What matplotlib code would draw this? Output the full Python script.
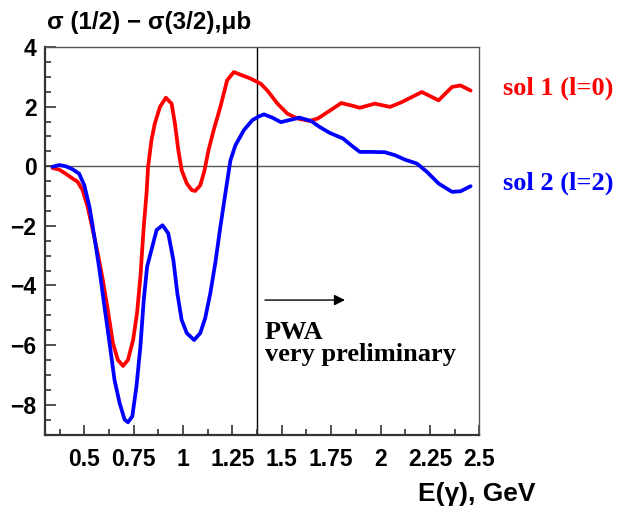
import matplotlib
matplotlib.use("Agg")
import matplotlib.pyplot as plt

# sol 1 (l=0): photon energy [GeV] and sigma(1/2) - sigma(3/2) [mub]
e_sol1 = [0.339, 0.372, 0.406, 0.440, 0.466, 0.491, 0.517, 0.543, 0.568, 0.594,
          0.619, 0.645, 0.670, 0.696, 0.721, 0.747, 0.767, 0.784, 0.801, 0.815,
          0.823, 0.840, 0.857, 0.883, 0.913, 0.942, 0.959, 0.976, 0.993, 1.019,
          1.044, 1.061, 1.087, 1.107, 1.129, 1.155, 1.189, 1.223, 1.257, 1.291,
          1.342, 1.393, 1.427, 1.478, 1.529, 1.580, 1.640, 1.682, 1.733, 1.801,
          1.852, 1.895, 1.971, 2.048, 2.107, 2.209, 2.294, 2.362, 2.405, 2.456]
s_sol1 = [-0.06, -0.11, -0.25, -0.41, -0.52, -0.80, -1.36, -2.14, -2.92, -3.82,
          -4.82, -5.94, -6.50, -6.70, -6.50, -5.83, -4.93, -3.71, -2.03, -0.92,
          -0.02, 0.87, 1.43, 1.99, 2.30, 2.10, 1.43, 0.54, -0.13, -0.58,
          -0.80, -0.83, -0.64, -0.19, 0.54, 1.21, 1.99, 2.88, 3.16, 3.07,
          2.94, 2.77, 2.54, 2.10, 1.76, 1.60, 1.52, 1.60, 1.82, 2.12,
          2.04, 1.96, 2.10, 1.99, 2.15, 2.49, 2.21, 2.66, 2.71, 2.54]

# sol 2 (l=2)
e_sol2 = [0.339, 0.372, 0.406, 0.440, 0.474, 0.500, 0.526, 0.551, 0.577, 0.602,
          0.628, 0.653, 0.679, 0.704, 0.721, 0.743, 0.764, 0.784, 0.801, 0.818,
          0.840, 0.866, 0.896, 0.925, 0.951, 0.971, 0.993, 1.019, 1.056, 1.087,
          1.112, 1.138, 1.163, 1.189, 1.214, 1.240, 1.265, 1.308, 1.350, 1.380,
          1.410, 1.452, 1.495, 1.546, 1.589, 1.648, 1.691, 1.742, 1.810, 1.852,
          1.895, 1.954, 2.022, 2.073, 2.124, 2.184, 2.235, 2.294, 2.362, 2.405,
          2.456]
s_sol2 = [-0.02, 0.04, 0.00, -0.10, -0.25, -0.64, -1.36, -2.37, -3.48, -4.71,
          -5.94, -7.17, -7.95, -8.50, -8.59, -8.39, -7.39, -6.05, -4.49, -3.37,
          -2.81, -2.14, -1.98, -2.25, -3.15, -4.26, -5.16, -5.60, -5.83, -5.60,
          -5.10, -4.26, -3.26, -2.03, -0.92, 0.20, 0.70, 1.21, 1.54, 1.66,
          1.74, 1.63, 1.48, 1.56, 1.63, 1.52, 1.32, 1.12, 0.93, 0.70,
          0.48, 0.48, 0.47, 0.37, 0.22, 0.09, -0.19, -0.58, -0.86, -0.84,
          -0.67]

x_major = [0.5, 0.75, 1.0, 1.25, 1.5, 1.75, 2.0, 2.25, 2.5]
x_labels = ["0.5", "0.75", "1", "1.25", "1.5", "1.75", "2", "2.25", "2.5"]
y_major = [-8, -6, -4, -2, 0, 2, 4]
e_cut = 1.375

W, H = 625, 509
fig = plt.figure(figsize=(W / 100, H / 100), dpi=100)
ax = fig.add_axes([44.8 / W, 1 - 434.5 / H, (479.3 - 44.8) / W, (434.5 - 47) / H])

ax.plot(e_sol1, s_sol1, color="#ff0000", lw=2.7, solid_joinstyle="round",
        solid_capstyle="round", zorder=3)
ax.plot(e_sol2, s_sol2, color="#0000ff", lw=2.7, solid_joinstyle="round",
        solid_capstyle="round", zorder=3)

ax.axhline(0, color="#555555", lw=1.0, zorder=1)
ax.axvline(e_cut, color="black", lw=1.0, zorder=1)

ax.set_xlim(0.3, 2.5)
ax.set_ylim(-9, 4)

tfont = dict(family="Liberation Sans", weight="bold", size=16.5)
ax.set_xticks(x_major)
ax.set_xticklabels(x_labels, fontdict=tfont)
ax.set_xticks([0.375 + 0.25 * i for i in range(9)], minor=True)
ax.set_yticks(y_major)
ax.set_yticklabels([str(v).replace("-", "\u2212") for v in y_major], fontdict=tfont)
ax.set_yticks([v / 2 for v in range(-18, 9) if v % 4], minor=True)

ax.tick_params(which="both", direction="in", color="#333333", width=1.2)
ax.tick_params(axis="x", which="major", length=7, pad=10)
ax.tick_params(axis="x", which="minor", length=4)
ax.tick_params(axis="y", which="major", length=8, pad=6)
ax.tick_params(axis="y", which="minor", length=4)

for side in ["left", "bottom"]:
    ax.spines[side].set_linewidth(1.6)
    ax.spines[side].set_color("#333333")
for side in ["top", "right"]:
    ax.spines[side].set_linewidth(1.0)
    ax.spines[side].set_color("#555555")

# arrow and note
ax.annotate("", xy=(1.82, -4.49), xytext=(1.415, -4.49),
            arrowprops=dict(arrowstyle="-|>", color="black", lw=1.0,
                            mutation_scale=16, shrinkA=0, shrinkB=0))
nfont = dict(family="Liberation Serif", weight="bold", size=19)
ax.text(1.415, -5.80, "PWA", ha="left", va="baseline", **nfont)
ax.text(1.415, -6.55, "very preliminary", ha="left", va="baseline", **nfont)

# title, axis label and solution labels
fig.text(47 / W, 1 - 23 / H, "\u03c3 (1/2) \u2212 \u03c3(3/2),\u03bcb", ha="left",
         va="center", family="Liberation Sans", weight="bold", size=17.5)
fig.text(535 / W, 1 - 494 / H, "E(\u03b3), GeV", ha="right", va="center",
         family="Liberation Sans", weight="bold", size=19)
lfont = dict(family="Liberation Serif", weight="bold", size=19)
fig.text(503 / W, 1 - 88 / H, "sol 1 (l=0)", color="#ff0000", ha="left", va="center", **lfont)
fig.text(503 / W, 1 - 183 / H, "sol 2 (l=2)", color="#0000ff", ha="left", va="center", **lfont)

fig.savefig("out.png", dpi=100)
